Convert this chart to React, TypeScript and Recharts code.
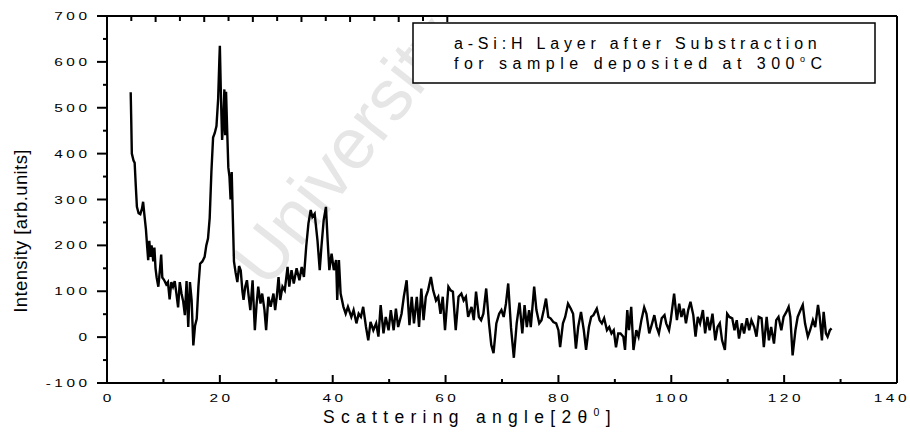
import React from "react";
import { ComposedChart, Line, XAxis, YAxis } from "recharts";

// XRD scan of the a-Si:H layer (substrate signal removed)
const angle = [
  4.2, 4.3, 4.4, 4.7, 4.9, 5.1, 5.3, 5.6, 5.9, 6.2, 6.4, 6.6, 6.9, 7.1, 7.3, 7.5, 7.7, 7.9,
  8.2, 8.4, 8.6, 8.8, 9.1, 9.4, 9.6, 9.8, 10.1, 10.5, 10.8, 11.1, 11.4, 11.7, 12.0, 12.3,
  12.6, 12.9, 13.2, 13.5, 13.8, 14.1, 14.4, 14.7, 15.0, 15.3, 15.6, 15.9, 16.2, 16.5, 16.9,
  17.3, 17.6, 17.9, 18.2, 18.5, 18.8, 19.1, 19.4, 19.7, 19.9, 20.0, 20.2, 20.4, 20.6, 20.8,
  20.95, 21.1, 21.3, 21.5, 21.7, 21.9, 22.1, 22.3, 22.5, 22.8, 23.1, 23.4, 23.7, 24.0, 24.2,
  24.5, 24.8, 25.1, 25.4, 25.8, 26.2, 26.5, 26.8, 27.2, 27.5, 27.9, 28.2, 28.6, 29.0, 29.5,
  29.8, 30.1, 30.4, 30.7, 31.1, 31.5, 32.0, 32.3, 32.7, 33.1, 33.6, 34.1, 34.5, 34.9, 35.3,
  35.7, 36.1, 36.4, 36.8, 37.3, 37.7, 38.0, 38.4, 38.8, 39.1, 39.4, 39.8, 40.2, 40.6, 40.8,
  41.1, 41.4, 41.9, 42.3, 42.7, 43.3, 43.7, 44.2, 44.6, 45.0, 45.4, 45.9, 46.3, 46.7, 47.2,
  47.7, 48.1, 48.5, 49.0, 49.4, 49.9, 50.3, 50.8, 51.2, 51.6, 52.2, 52.6, 53.1, 53.6, 54.0,
  54.4, 54.9, 55.3, 55.7, 56.1, 56.5, 56.9, 57.4, 57.8, 58.3, 58.7, 59.1, 59.5, 59.9, 60.5,
  60.9, 61.3, 61.8, 62.3, 62.8, 63.2, 63.6, 64.0, 64.6, 65.0, 65.4, 65.9, 66.3, 66.7, 67.2,
  67.7, 68.1, 68.5, 69.0, 69.5, 69.9, 70.3, 70.7, 71.1, 71.6, 72.1, 72.6, 73.1, 73.6, 74.0,
  74.4, 74.8, 75.1, 75.7, 76.1, 76.6, 77.0, 77.4, 77.8, 78.2, 78.6, 79.1, 79.6, 80.0, 80.3,
  80.8, 81.2, 81.7, 82.2, 82.6, 83.1, 83.5, 84.0, 84.5, 84.9, 85.4, 85.8, 86.2, 86.8, 87.3,
  87.7, 88.1, 88.6, 89.0, 89.4, 89.8, 90.2, 90.6, 91.0, 91.5, 91.8, 92.2, 92.5, 92.9, 93.3,
  93.8, 94.2, 94.7, 95.2, 95.6, 96.1, 96.6, 97.0, 97.4, 97.8, 98.3, 98.8, 99.1, 99.6, 99.9,
  100.5, 101.0, 101.4, 101.8, 102.2, 102.6, 103.0, 103.4, 103.9, 104.3, 104.7, 105.1, 105.6,
  106.0, 106.4, 106.8, 107.3, 107.8, 108.2, 108.6, 109.0, 109.5, 109.9, 110.3, 110.8, 111.2,
  111.6, 112.0, 112.5, 112.9, 113.4, 113.8, 114.2, 114.7, 115.1, 115.5, 116.0, 116.4, 116.9,
  117.3, 117.7, 118.2, 118.6, 119.0, 119.5, 119.9, 120.4, 120.8, 121.1, 121.5, 122.0, 122.4,
  122.9, 123.3, 123.7, 124.2, 124.6, 125.1, 125.5, 126.0, 126.3, 126.7, 127.0, 127.4, 127.7,
  128.1, 128.4,
];

const intensity = [
  534, 470, 400, 385, 380, 330, 284, 270, 268, 280, 295, 270, 235, 200, 168, 210, 175, 200,
  165, 195, 150, 130, 110, 150, 180, 130, 125, 115, 120, 82, 120, 110, 122, 95,
  65, 120, 95, 78, 48, 122, 22, 120, 80, -18, 25, 40, 110, 160, 165,
  175, 200, 215, 260, 360, 435, 445, 460, 520, 600, 635, 520, 430, 470, 540,
  440, 535, 450, 370, 350, 300, 360, 260, 165, 140, 120, 155, 145, 100, 81,
  110, 124, 90, 59, 124, 15, 70, 110, 73, 95, 60, 15, 88, 66, 95,
  59, 90, 131, 81, 110, 102, 153, 110, 146, 117, 150, 124, 153, 131, 197,
  248, 277, 262, 269, 211, 146, 197, 255, 284, 211, 146, 182, 146, 168, 81,
  168, 95, 66, 51, 66, 44, 59, 30, 51, 44, 66, 22, -7, 33, 15,
  30, 1, 70, 8, 44, 15, 59, 15, 62, 22, 51, 88, 124, 26, 88,
  30, 88, 22, 106, 37, 88, 102, 131, 102, 80, 88, 51, 88, 15, 110,
  102, 99, 15, 88, 95, 80, 88, 44, 66, 37, 99, 44, 37, 51, 106,
  30, -17, -35, 30, 51, 59, 44, 73, 117, 20, -45, 30, 75, 8, 70,
  22, 59, 22, 110, 59, 30, 37, 59, 84, 44, 41, 33, 30, 15, -22,
  30, 44, 73, 62, 51, -25, 22, 55, 15, -28, 22, 44, 48, 62, 37,
  30, 41, 15, 22, 8, 15, -22, 8, 8, 1, -28, 59, 15, 66, -28,
  15, 1, 37, 65, 51, 8, 30, 48, 22, 8, 41, 48, 30, 15, 37,
  95, 37, 73, 44, 62, 30, 59, 77, 48, 1, 44, 30, 59,
  8, 44, 15, 51, -7, 22, 30, -7, -28, 51, 44, 41, 15,
  37, -3, 30, 8, 41, 15, 37, 22, 1, 44, 41, -22, 44,
  -7, 22, -14, 37, 44, 15, 44, 55, 66, 44, -40, 15, 44,
  59, 70, 30, 1, 15, 37, 22, 70, 44, -7, 55, 8, 1,
  15, 19,
];

const xTicks = [0, 10, 20, 30, 40, 50, 60, 70, 80, 90, 100, 110, 120, 130, 140];
const yTicks = [-100, -50, 0, 50, 100, 150, 200, 250, 300, 350, 400, 450, 500, 550, 600, 650, 700];

const legendLine1 = "a-Si:H Layer after Substraction";
const legendLine2 = "for sample deposited at 300";

const data = angle.map((a, i) => ({ angle: a, intensity: intensity[i] }));

const FONT = "'Liberation Sans', Arial, sans-serif";

// tick numbers are printed wide: small font stretched sideways
const TICK_FONT = 11;
const TICK_STRETCH = 1.4;
const TICK_SPACING = 2.5;

const TickText = ({ x, y, anchor, children }: any) => (
  <text
    transform={`translate(${x},${y}) scale(${TICK_STRETCH},1)`}
    textAnchor={anchor}
    fontFamily={FONT}
    fontSize={TICK_FONT}
    letterSpacing={TICK_SPACING}
    fill="#000"
  >
    {children}
  </text>
);

const BottomTick = (props: any) => {
  const { x, y, payload } = props;
  const major = payload.value % 20 === 0;
  // the last label sits against the right edge of the figure
  const last = payload.value === 140;
  return (
    <g>
      <line x1={x} x2={x} y1={y} y2={y - (major ? 8 : 4)} stroke="#000" strokeWidth={2} />
      {major && (
        <TickText x={last ? 910 : x + (TICK_SPACING * TICK_STRETCH) / 2} y={y + 19} anchor={last ? "end" : "middle"}>
          {payload.value}
        </TickText>
      )}
    </g>
  );
};

const TopTick = (props: any) => {
  const { x, y, payload } = props;
  const major = payload.value % 20 === 0;
  return <line x1={x} x2={x} y1={y} y2={y + (major ? 6 : 5)} stroke="#000" strokeWidth={2} />;
};

const LeftTick = (props: any) => {
  const { x, y, payload } = props;
  const major = payload.value % 100 === 0;
  return (
    <g>
      <line x1={x} x2={x - (major ? 10 : 4)} y1={y} y2={y} stroke="#000" strokeWidth={2} />
      {major && (
        <TickText x={x - 20 + TICK_SPACING * TICK_STRETCH} y={y + 4} anchor="end">
          {payload.value}
        </TickText>
      )}
    </g>
  );
};

const RightTick = (props: any) => {
  const { x, y, payload } = props;
  const major = payload.value % 100 === 0;
  return <line x1={x} x2={x - (major ? 9 : 4)} y1={y} y2={y} stroke="#000" strokeWidth={2} />;
};

const axisLine = { stroke: "#000", strokeWidth: 2 };

export default function App() {
  return (
    <div style={{ position: "absolute", left: 0, top: 0, width: 910, height: 438, background: "#fff" }}>
      {/* faint diagonal watermark behind the plot */}
      <svg width={910} height={438} style={{ position: "absolute", left: 0, top: 0 }}>
        <text
          x={345}
          y={150}
          textAnchor="middle"
          dominantBaseline="central"
          fontFamily={FONT}
          fontSize={72}
          fill="#e6e6e6"
          transform="rotate(-52 345 150)"
        >
          University
        </text>
      </svg>

      <div style={{ position: "absolute", left: 0, top: 0 }}>
        <ComposedChart width={910} height={438} data={data} margin={{ top: 0, right: 0, bottom: 0, left: 0 }}>
          <XAxis
            xAxisId="b"
            dataKey="angle"
            type="number"
            domain={[0, 140]}
            ticks={xTicks}
            interval={0}
            height={55}
            tickSize={0}
            tickMargin={0}
            tickLine={false}
            axisLine={axisLine}
            tick={<BottomTick />}
          />
          <XAxis
            xAxisId="t"
            orientation="top"
            type="number"
            domain={[0, 140]}
            ticks={xTicks}
            interval={0}
            height={16}
            tickSize={0}
            tickMargin={0}
            tickLine={false}
            axisLine={axisLine}
            tick={<TopTick />}
          />
          <YAxis
            yAxisId="l"
            type="number"
            domain={[-100, 700]}
            ticks={yTicks}
            interval={0}
            width={107}
            tickSize={0}
            tickMargin={0}
            tickLine={false}
            axisLine={axisLine}
            tick={<LeftTick />}
          />
          <YAxis
            yAxisId="r"
            orientation="right"
            type="number"
            domain={[-100, 700]}
            ticks={yTicks}
            interval={0}
            width={13}
            tickSize={0}
            tickMargin={0}
            tickLine={false}
            axisLine={axisLine}
            tick={<RightTick />}
          />
          <Line
            xAxisId="b"
            yAxisId="l"
            type="linear"
            dataKey="intensity"
            stroke="#000"
            strokeWidth={2.4}
            dot={false}
            activeDot={false}
            isAnimationActive={false}
          />
        </ComposedChart>
      </div>

      {/* axis titles and the annotation box */}
      <svg width={910} height={438} style={{ position: "absolute", left: 0, top: 0, pointerEvents: "none" }}>
        <text x={323} y={423} fontFamily={FONT} fontSize={17.5} letterSpacing={6.3} fill="#000">
          Scattering angle[2θ
          <tspan dy={-7} fontSize={10.5}>0</tspan>
          <tspan dy={7}>]</tspan>
        </text>
        <text
          x={0}
          y={0}
          textAnchor="middle"
          fontFamily={FONT}
          fontSize={18.5}
          letterSpacing={0.4}
          fill="#000"
          transform="translate(27 231) rotate(-90)"
        >
          Intensity [arb.units]
        </text>

        <rect x={413} y={23} width={462} height={60} fill="#fff" stroke="#000" strokeWidth={1.5} />
        <text x={454} y={49} fontFamily={FONT} fontSize={16} letterSpacing={4.8} fill="#000">
          {legendLine1}
        </text>
        <text x={454} y={69} fontFamily={FONT} fontSize={16} letterSpacing={5.5} fill="#000">
          {legendLine2}
          <tspan dy={-7} fontSize={9}>o</tspan>
          <tspan dy={7}>C</tspan>
        </text>
      </svg>
    </div>
  );
}
